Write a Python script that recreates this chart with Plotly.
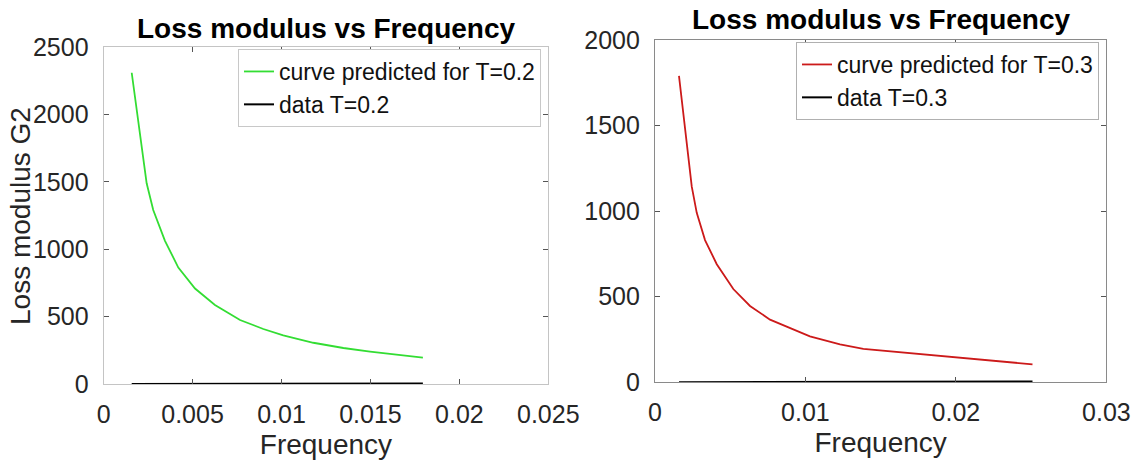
import plotly.graph_objects as go

# ---------------- data ----------------
freq_02 = [0.00158, 0.00242, 0.00279, 0.00345, 0.0042, 0.00514, 0.00626, 0.00767,
           0.00898, 0.0101, 0.01179, 0.01348, 0.01498, 0.0161, 0.01795]
g2_pred_02 = [2309, 1489, 1291, 1062, 864, 708, 586, 475,
              408, 360, 306, 267, 240, 224, 195]
g2_data_02 = [0.5, 0.6, 0.7, 0.8, 0.9, 1.1, 1.3, 1.5,
              1.7, 1.9, 2.1, 2.3, 2.5, 2.7, 3.0]

freq_03 = [0.0016, 0.00245, 0.00278, 0.00333, 0.00411, 0.00521, 0.00632, 0.00765,
           0.0103, 0.0123, 0.01385, 0.0185, 0.02293, 0.02509]
g2_pred_03 = [1790, 1143, 990, 831, 690, 545, 446, 366,
              268, 222, 195, 156, 123, 105]
g2_data_03 = [0.5, 0.6, 0.7, 0.8, 0.9, 1.1, 1.3, 1.5,
              2.0, 2.3, 2.6, 3.4, 4.2, 4.6]

x_ticks_left = [0, 0.005, 0.01, 0.015, 0.02, 0.025]
x_ticktext_left = ["0", "0.005", "0.01", "0.015", "0.02", "0.025"]
y_ticks_left = [0, 500, 1000, 1500, 2000, 2500]
x_ticks_right = [0, 0.01, 0.02, 0.03]
x_ticktext_right = ["0", "0.01", "0.02", "0.03"]
y_ticks_right = [0, 500, 1000, 1500, 2000]

title_text = "Loss modulus vs Frequency"
xlabel = "Frequency"
ylabel = "Loss modulus G2"

# ---------------- figure ----------------
W, H = 1141, 460
FONT = "Liberation Sans, Arial, sans-serif"
TICK_COLOR = "#262626"

fig = go.Figure()

fig.add_trace(go.Scatter(x=freq_02, y=g2_pred_02, mode="lines", name="curve predicted for T=0.2",
                         line=dict(color="#33dd33", width=1.8), xaxis="x", yaxis="y", legend="legend"))
fig.add_trace(go.Scatter(x=freq_02, y=g2_data_02, mode="lines", name="data T=0.2",
                         line=dict(color="#000000", width=2), xaxis="x", yaxis="y", legend="legend"))
fig.add_trace(go.Scatter(x=freq_03, y=g2_pred_03, mode="lines", name="curve predicted for T=0.3",
                         line=dict(color="#cc1a1a", width=1.8), xaxis="x2", yaxis="y2", legend="legend2"))
fig.add_trace(go.Scatter(x=freq_03, y=g2_data_03, mode="lines", name="data T=0.3",
                         line=dict(color="#000000", width=2), xaxis="x2", yaxis="y2", legend="legend2"))

def px_x(p):
    return p / W

def px_y(p):
    return (H - p) / H

axis_common = dict(showgrid=False, zeroline=False, showline=True, mirror="ticks",
                   ticks="inside", ticklen=5, tickwidth=1, automargin=False,
                   tickfont=dict(family=FONT, size=25, color=TICK_COLOR))

left_line = "#c4c4c4"
right_line = "#8a8a8a"

fig.update_layout(
    width=W, height=H,
    margin=dict(l=0, r=0, t=0, b=0, autoexpand=False),
    paper_bgcolor="white", plot_bgcolor="white",
    font=dict(family=FONT, color=TICK_COLOR),
    xaxis=dict(domain=[px_x(103.6), px_x(548.3)], range=[0, 0.025], anchor="y",
               tickvals=x_ticks_left, ticktext=x_ticktext_left, linecolor=left_line, tickcolor="#555",
               ticklabelstandoff=8,
               title=dict(text=xlabel, font=dict(family=FONT, size=28, color=TICK_COLOR), standoff=7),
               **axis_common),
    yaxis=dict(domain=[px_y(384), px_y(47)], range=[0, 2500], anchor="x",
               tickvals=y_ticks_left, linecolor=left_line, tickcolor="#555",
               ticklabelstandoff=9,
               **axis_common),
    xaxis2=dict(domain=[px_x(654.9), px_x(1106.4)], range=[0, 0.03], anchor="y2",
                tickvals=x_ticks_right, ticktext=x_ticktext_right, linecolor=right_line, tickcolor="#555",
                ticklabelstandoff=8,
                title=dict(text=xlabel, font=dict(family=FONT, size=28, color=TICK_COLOR), standoff=7),
                **axis_common),
    yaxis2=dict(domain=[px_y(382.3), px_y(40)], range=[0, 2000], anchor="x2",
                tickvals=y_ticks_right, linecolor=right_line, tickcolor="#555",
                ticklabelstandoff=9,
                **axis_common),
    legend=dict(x=px_x(541), y=px_y(49), xanchor="right", yanchor="top",
                bgcolor="white", bordercolor="#c8c8c8", borderwidth=1,
                font=dict(family=FONT, size=23, color="#111"),
                itemwidth=30, tracegroupgap=0),
    legend2=dict(x=px_x(1099), y=px_y(42), xanchor="right", yanchor="top",
                 bgcolor="white", bordercolor="#b0b0b0", borderwidth=1,
                 font=dict(family=FONT, size=23, color="#111"),
                 itemwidth=30, tracegroupgap=0),
    showlegend=True,
    annotations=[
        dict(text="<b>" + title_text + "</b>", x=px_x(326), y=px_y(28.3), xref="paper", yref="paper",
             xanchor="center", yanchor="middle", showarrow=False,
             font=dict(family=FONT, size=28, color="#000")),
        dict(text="<b>" + title_text + "</b>", x=px_x(881), y=px_y(20), xref="paper", yref="paper",
             xanchor="center", yanchor="middle", showarrow=False,
             font=dict(family=FONT, size=28, color="#000")),
        dict(text=ylabel, x=px_x(21), y=px_y(216), xref="paper", yref="paper",
             xanchor="center", yanchor="middle", showarrow=False, textangle=-90,
             font=dict(family=FONT, size=28, color=TICK_COLOR)),
    ],
)

fig.write_html("out.html")
